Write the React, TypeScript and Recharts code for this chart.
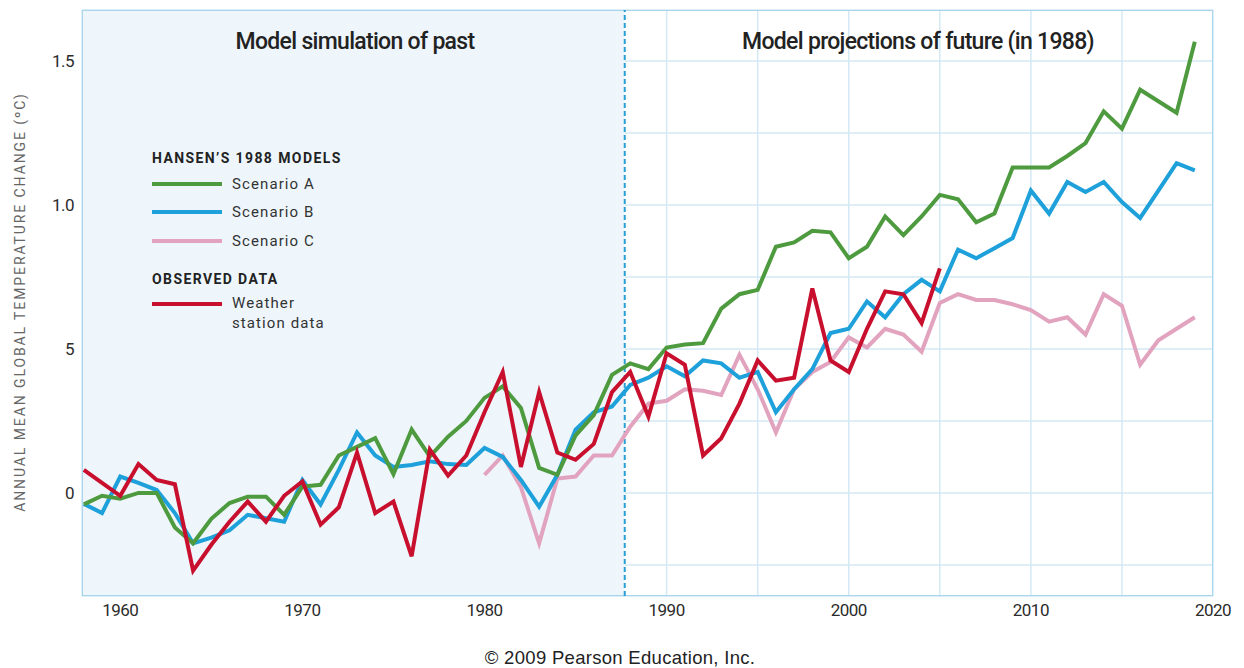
import React from 'react';
import { LineChart, Line, XAxis, YAxis, CartesianGrid, ReferenceArea, ReferenceLine } from 'recharts';

// years on the x axis
const years = [
  1958, 1959, 1960, 1961, 1962, 1963, 1964, 1965, 1966, 1967, 1968, 1969,
  1970, 1971, 1972, 1973, 1974, 1975, 1976, 1977, 1978, 1979,
  1980, 1981, 1982, 1983, 1984, 1985, 1986, 1987, 1988, 1989,
  1990, 1991, 1992, 1993, 1994, 1995, 1996, 1997, 1998, 1999,
  2000, 2001, 2002, 2003, 2004, 2005, 2006, 2007, 2008, 2009,
  2010, 2011, 2012, 2013, 2014, 2015, 2016, 2017, 2018, 2019,
];

// Hansen scenario A, 1958-2019
const scenarioA = [
  -0.04, -0.01, -0.02, 0.0, 0.0, -0.12, -0.175, -0.09, -0.035, -0.013, -0.013, -0.076,
  0.022, 0.028, 0.13, 0.16, 0.19, 0.065, 0.22, 0.126, 0.195, 0.25,
  0.33, 0.37, 0.295, 0.087, 0.063, 0.2, 0.27, 0.41, 0.45, 0.43,
  0.505, 0.515, 0.52, 0.64, 0.69, 0.705, 0.855, 0.87, 0.91, 0.905,
  0.815, 0.855, 0.96, 0.895, 0.96, 1.035, 1.02, 0.94, 0.97, 1.13,
  1.13, 1.13, 1.17, 1.215, 1.325, 1.265, 1.4, 1.36, 1.32, 1.567,
];

// scenario B, 1958-2019
const scenarioB = [
  -0.038, -0.07, 0.057, 0.035, 0.01, -0.07, -0.175, -0.155, -0.13, -0.076, -0.088, -0.1,
  0.045, -0.04, 0.08, 0.21, 0.13, 0.09, 0.097, 0.11, 0.1, 0.097,
  0.156, 0.125, 0.045, -0.048, 0.063, 0.22, 0.28, 0.3, 0.375, 0.4,
  0.44, 0.405, 0.46, 0.45, 0.4, 0.42, 0.28, 0.36, 0.43, 0.555,
  0.57, 0.665, 0.61, 0.69, 0.74, 0.7, 0.845, 0.815, 0.85, 0.885,
  1.05, 0.97, 1.08, 1.045, 1.08, 1.01, 0.955, 1.05, 1.145, 1.12,
];

// scenario C starts in 1980
const scenarioCStart = 1980;
const scenarioC = [
  0.063, 0.13, 0.02, -0.175, 0.05, 0.057, 0.13, 0.13, 0.23, 0.31,
  0.32, 0.36, 0.355, 0.34, 0.48, 0.36, 0.21, 0.36, 0.42, 0.455,
  0.54, 0.505, 0.57, 0.55, 0.49, 0.66, 0.69, 0.67, 0.67, 0.655,
  0.635, 0.595, 0.61, 0.55, 0.69, 0.65, 0.445, 0.53, 0.57, 0.61,
];

// weather station data, 1958-2005
const observed = [
  0.08, 0.035, -0.01, 0.1, 0.045, 0.03, -0.27, -0.18, -0.1, -0.03, -0.1, -0.01,
  0.04, -0.11, -0.05, 0.14, -0.07, -0.03, -0.22, 0.15, 0.06, 0.13,
  0.28, 0.42, 0.09, 0.35, 0.14, 0.115, 0.17, 0.35, 0.42, 0.265,
  0.485, 0.445, 0.13, 0.19, 0.31, 0.46, 0.39, 0.4, 0.71, 0.46,
  0.42, 0.57, 0.7, 0.69, 0.59, 0.78,
];

const xTicks = [1960, 1965, 1970, 1975, 1980, 1985, 1990, 1995, 2000, 2005, 2010, 2015, 2020];
const yTicks = [-0.25, 0, 0.25, 0.5, 0.75, 1.0, 1.25, 1.5];
const yLabels: Record<string, string> = { '0': '0', '0.5': '5', '1': '1.0', '1.5': '1.5' };

const X_MIN = 1957.9;
const X_MAX = 2020;
const Y_MIN = -0.358;
const Y_MAX = 1.677;
const SPLIT_YEAR = 1987.7;

const data = years.map((year, i) => ({
  year,
  a: scenarioA[i],
  b: scenarioB[i],
  c: year >= scenarioCStart ? scenarioC[year - scenarioCStart] : null,
  obs: i < observed.length ? observed[i] : null,
}));

const GREEN = '#4e9a3f';
const BLUE = '#1ea0da';
const PINK = '#e2a3bf';
const RED = '#c8102e';

const font = 'Roboto, "Open Sans", sans-serif';

const legendText: React.CSSProperties = {
  position: 'absolute',
  fontFamily: font,
  fontSize: 15,
  letterSpacing: 1.1,
  color: '#333',
  lineHeight: '20px',
};

const swatch = (top: number, color: string) => (
  <div style={{ position: 'absolute', left: 152, top: top - 2, width: 70, height: 4, background: color }} />
);

export default function App() {
  return (
    <div style={{ position: 'absolute', left: 0, top: 0, width: 1244, height: 668, background: '#fff', overflow: 'hidden' }}>
      <LineChart width={1244} height={668} data={data} margin={{ top: 10, right: 31, bottom: 42, left: 42 }}>
        <ReferenceArea x1={X_MIN} x2={SPLIT_YEAR} y1={Y_MIN} y2={Y_MAX} fill="#eef6fc" fillOpacity={1} stroke="none" ifOverflow="hidden" />
        <CartesianGrid stroke="#d3e9f5" strokeWidth={1.5} />
        <ReferenceArea x1={X_MIN} x2={X_MAX} y1={Y_MIN} y2={Y_MAX} fill="none" stroke="#a9d6ee" strokeWidth={2} ifOverflow="hidden" />
        <XAxis
          dataKey="year"
          type="number"
          domain={[X_MIN, X_MAX]}
          ticks={xTicks}
          allowDataOverflow
          axisLine={false}
          tickLine={false}
          height={30}
          tick={{ fill: '#2b2b2b', fontSize: 17, fontFamily: font, letterSpacing: -0.5 }}
          tickFormatter={(v: number) => (v % 10 === 0 ? String(v) : '')}
        />
        <YAxis
          type="number"
          domain={[Y_MIN, Y_MAX]}
          ticks={yTicks}
          allowDataOverflow
          axisLine={false}
          tickLine={false}
          width={40}
          tick={{ fill: '#2b2b2b', fontSize: 17, fontFamily: font, letterSpacing: -0.5 }}
          tickFormatter={(v: number) => yLabels[String(v)] ?? ''}
        />
        <ReferenceLine x={SPLIT_YEAR} stroke="#2a9fd6" strokeWidth={2} strokeDasharray="5 3" />
        <Line type="linear" dataKey="c" stroke={PINK} strokeWidth={4} dot={false} isAnimationActive={false} connectNulls={false} />
        <Line type="linear" dataKey="b" stroke={BLUE} strokeWidth={4} dot={false} isAnimationActive={false} />
        <Line type="linear" dataKey="a" stroke={GREEN} strokeWidth={4} dot={false} isAnimationActive={false} />
        <Line type="linear" dataKey="obs" stroke={RED} strokeWidth={4} dot={false} isAnimationActive={false} connectNulls={false} />
      </LineChart>

      {/* panel titles */}
      <div style={{ position: 'absolute', left: 155, width: 400, top: 28, textAlign: 'center', fontFamily: font, fontSize: 23, fontWeight: 500, letterSpacing: -0.7, color: '#222' }}>
        Model simulation of past
      </div>
      <div style={{ position: 'absolute', left: 668, width: 500, top: 28, textAlign: 'center', fontFamily: font, fontSize: 23, fontWeight: 500, letterSpacing: -0.7, color: '#222' }}>
        Model projections of future (in 1988)
      </div>

      {/* y axis title */}
      <div
        style={{
          position: 'absolute',
          left: 20,
          top: 302,
          transform: 'translate(-50%, -50%) rotate(-90deg)',
          whiteSpace: 'nowrap',
          fontFamily: font,
          fontSize: 14,
          letterSpacing: 1.9,
          color: '#666',
        }}
      >
        ANNUAL MEAN GLOBAL TEMPERATURE CHANGE (ºC)
      </div>

      {/* legend */}
      <div style={{ ...legendText, left: 152, top: 148, fontWeight: 700, fontSize: 14, letterSpacing: 1.4, color: '#222' }}>HANSEN’S 1988 MODELS</div>
      {swatch(184, GREEN)}
      <div style={{ ...legendText, left: 232, top: 174 }}>Scenario A</div>
      {swatch(212, BLUE)}
      <div style={{ ...legendText, left: 232, top: 202 }}>Scenario B</div>
      {swatch(241, PINK)}
      <div style={{ ...legendText, left: 232, top: 231 }}>Scenario C</div>
      <div style={{ ...legendText, left: 152, top: 269, fontWeight: 700, fontSize: 14, letterSpacing: 1.4, color: '#222' }}>OBSERVED DATA</div>
      {swatch(304, RED)}
      <div style={{ ...legendText, left: 232, top: 293 }}>Weather</div>
      <div style={{ ...legendText, left: 232, top: 313 }}>station data</div>

      {/* credit */}
      <div style={{ position: 'absolute', left: 370, width: 500, top: 647, textAlign: 'center', fontFamily: '"Liberation Sans", Arial, sans-serif', fontSize: 18.5, letterSpacing: 0.3, color: '#222', lineHeight: '22px' }}>
        © 2009 Pearson Education, Inc.
      </div>
    </div>
  );
}
